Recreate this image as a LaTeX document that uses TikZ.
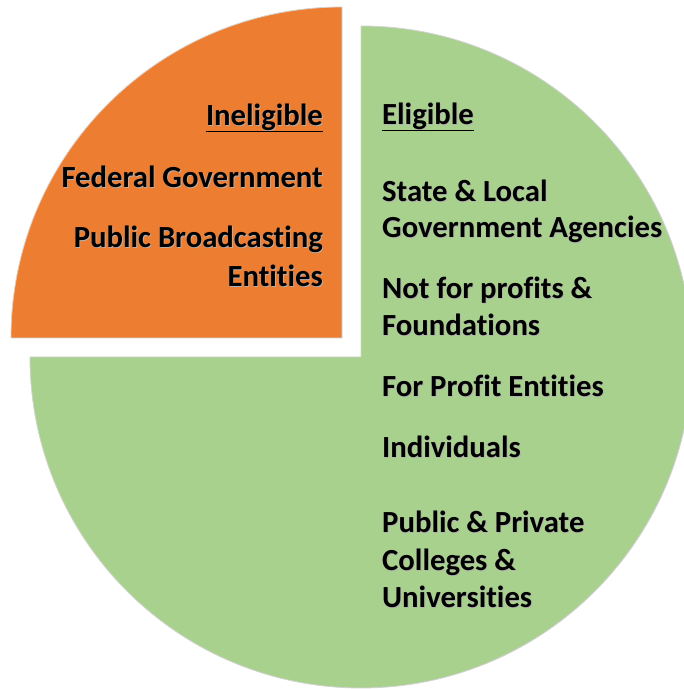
\documentclass[tikz,border=0pt]{standalone}
\usepackage{fontspec}
\setmainfont{Carlito}[Ligatures=NoCommon]
\usetikzlibrary{calc}
\definecolor{pieorange}{HTML}{ED7D31}
\definecolor{piegreen}{HTML}{A9D18E}
\newcommand\shtxt[1]{\leavevmode\rlap{\kern0.9pt\raisebox{-0.9pt}{\textcolor{black!30}{#1}}}#1}
\begin{document}
\begin{tikzpicture}[x=1pt,y=1pt,
  slice/.style={draw=gray!35,line width=0.8pt},
  lbl/.style={inner sep=0pt,font=\fontsize{30.7}{36}\selectfont\bfseries,text=black},
  ul/.style={line width=1.8pt,black}]
\useasboundingbox (0,0) rectangle (684,689);
\coordinate (gc) at (361,332);
\coordinate (oc) at (342,351);
\fill[white] (0,0) rectangle (684,689);
\draw[slice,fill=piegreen] (gc) -- ++(90:331) arc[start angle=90,end angle=-180,radius=331] -- cycle;
\draw[slice,fill=pieorange] (oc) -- ++(180:331) arc[start angle=180,end angle=90,radius=331] -- cycle;
% Eligible
\node[lbl,anchor=base west] (elig) at (382,564) {\shtxt{Eligible}};
\draw[ul] ($(elig.base west)+(0,-5.5)$) -- ($(elig.base east)+(0,-5.5)$);
\node[lbl,anchor=base west] (e1) at (382,487.5) {\shtxt{State \& Local}};
\node[lbl,anchor=base west] (e2) at (382,451) {\shtxt{Government Agencies}};
\node[lbl,anchor=base west] (e3) at (382,390) {\shtxt{Not for profits \&}};
\node[lbl,anchor=base west] (e4) at (382,353) {\shtxt{Foundations}};
\node[lbl,anchor=base west] (e5) at (382,292) {\shtxt{For Profit Entities}};
\node[lbl,anchor=base west] (e6) at (382,231) {\shtxt{Individuals}};
\node[lbl,anchor=base west] (e7) at (382,156) {\shtxt{Public \& Private}};
\node[lbl,anchor=base west] (e8) at (382,118) {\shtxt{Colleges \&}};
\node[lbl,anchor=base west] (e9) at (382,81) {\shtxt{Universities}};
% Ineligible
\node[lbl,anchor=base east] (inel) at (323,563) {\shtxt{Ineligible}};
\draw[ul] ($(inel.base west)+(0,-5.5)$) -- ($(inel.base east)+(0,-5.5)$);
\node[lbl,anchor=base east] (i1) at (323,501) {\shtxt{Federal Government}};
\node[lbl,anchor=base east] (i2) at (323,441) {\shtxt{Public Broadcasting}};
\node[lbl,anchor=base east] (i3) at (323,402) {\shtxt{Entities}};
\end{tikzpicture}
\end{document}
